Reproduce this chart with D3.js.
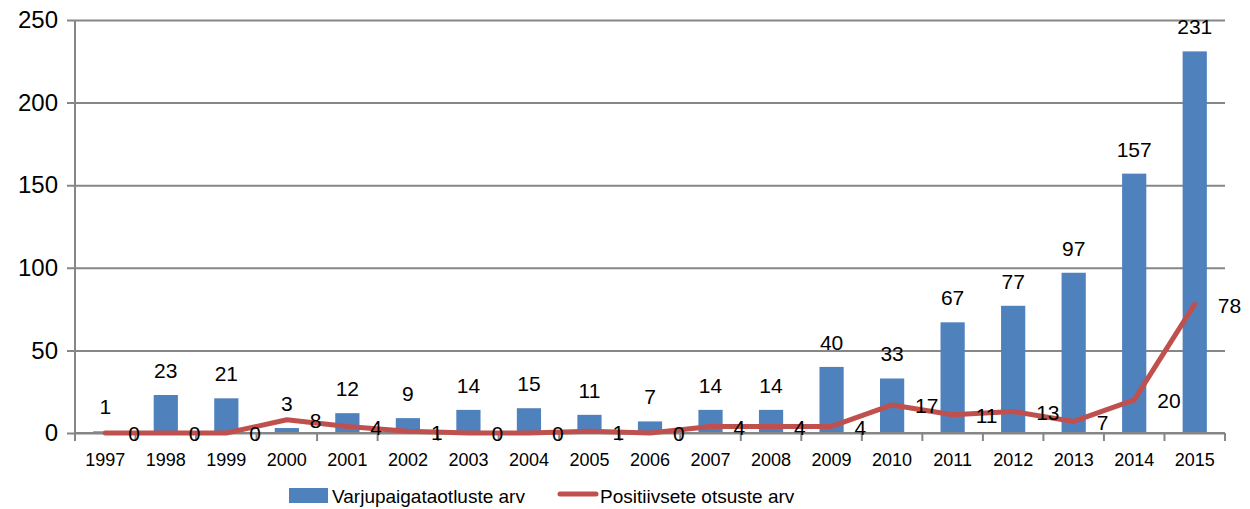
<!DOCTYPE html>
<html><head><meta charset="utf-8">
<script src="https://cdn.jsdelivr.net/npm/d3@7"></script>
<style>body{margin:0;background:#fff;} svg{display:block;font-family:"Liberation Sans",Arial,sans-serif;}</style>
</head><body>
<svg id="chart" width="1250" height="509"></svg>
<script>
const years = ["1997","1998","1999","2000","2001","2002","2003","2004","2005","2006","2007","2008","2009","2010","2011","2012","2013","2014","2015"];
const applications = [1,23,21,3,12,9,14,15,11,7,14,14,40,33,67,77,97,157,231];
const positives = [0,0,0,8,4,1,0,0,1,0,4,4,4,17,11,13,7,20,78];
const yTicks = [0,50,100,150,200,250];
const seriesNames = ["Varjupaigataotluste arv","Positiivsete otsuste arv"];

(function(){
const svg = d3.select("#chart");
const mLeft = 75, mRight = 1225, mTop = 20, mBottom = 433;
const x = d3.scaleBand().domain(years).range([mLeft, mRight]).paddingInner(0.6).paddingOuter(0.3);
const y = d3.scaleLinear().domain([0,250]).range([mBottom, mTop]);
const cx = d => x(d) + x.bandwidth()/2;
const step = x.step();
const grid = "#868686";

// gridlines + y labels
const yAxis = d3.axisLeft(y).tickValues(yTicks).tickSize(-(mRight - mLeft)).tickPadding(17);
const yg = svg.append("g").attr("transform", `translate(${mLeft},0)`).call(yAxis);
yg.select(".domain").remove();
yg.selectAll(".tick line").attr("stroke", grid).attr("stroke-width", 2).attr("x1", -8);
yg.selectAll(".tick text").attr("font-size", 24).attr("fill", "#000").attr("font-family", "Liberation Sans, Arial, sans-serif");

// bars
svg.append("g").selectAll("rect").data(applications).join("rect")
  .attr("x", (d,i) => x(years[i])).attr("width", x.bandwidth())
  .attr("y", d => y(d)).attr("height", d => y(0) - y(d))
  .attr("fill", "#4F81BD");

// axes lines
svg.append("line").attr("x1", mLeft).attr("x2", mLeft).attr("y1", mTop).attr("y2", mBottom).attr("stroke", grid).attr("stroke-width", 2);
const xAxis = d3.axisBottom(x).tickSize(0).tickPadding(20);
const xg = svg.append("g").attr("transform", `translate(0,${mBottom})`).call(xAxis);
xg.select(".domain").attr("stroke", grid).attr("stroke-width", 2).attr("d", `M${mLeft},0H${mRight}`);
xg.selectAll(".tick text").attr("font-size", 18).attr("fill", "#000").attr("font-family", "Liberation Sans, Arial, sans-serif");
// boundary tick marks
svg.append("g").selectAll("line").data(d3.range(years.length + 1)).join("line")
  .attr("x1", i => mLeft + i * step).attr("x2", i => mLeft + i * step)
  .attr("y1", mBottom).attr("y2", mBottom + 8).attr("stroke", grid).attr("stroke-width", 2);

// line
const line = d3.line().x((d,i) => cx(years[i])).y(d => y(d));
svg.append("path").datum(positives).attr("d", line).attr("fill", "none")
  .attr("stroke", "#C0504D").attr("stroke-width", 5).attr("stroke-linecap", "round").attr("stroke-linejoin", "round");

// bar labels
svg.append("g").selectAll("text").data(applications).join("text")
  .attr("x", (d,i) => cx(years[i])).attr("y", d => y(d) - 17)
  .attr("text-anchor", "middle").attr("font-size", 21).attr("fill", "#000").text(d => d);

// line labels
svg.append("g").selectAll("text").data(positives).join("text")
  .attr("x", (d,i) => cx(years[i]) + 23).attr("y", d => y(d)).attr("dy", "0.4em")
  .attr("font-size", 21).attr("fill", "#000").text(d => d);

// legend
const lg = svg.append("g");
lg.append("rect").attr("x", 289).attr("y", 488).attr("width", 39).attr("height", 15).attr("fill", "#4F81BD");
lg.append("text").attr("x", 332).attr("y", 503).attr("font-size", 19).attr("fill", "#000").text(seriesNames[0]);
lg.append("line").attr("x1", 560).attr("x2", 596).attr("y1", 494).attr("y2", 494).attr("stroke", "#C0504D").attr("stroke-width", 5).attr("stroke-linecap", "round");
lg.append("text").attr("x", 600).attr("y", 503).attr("font-size", 19).attr("fill", "#000").text(seriesNames[1]);
})();
</script>
</body></html>
